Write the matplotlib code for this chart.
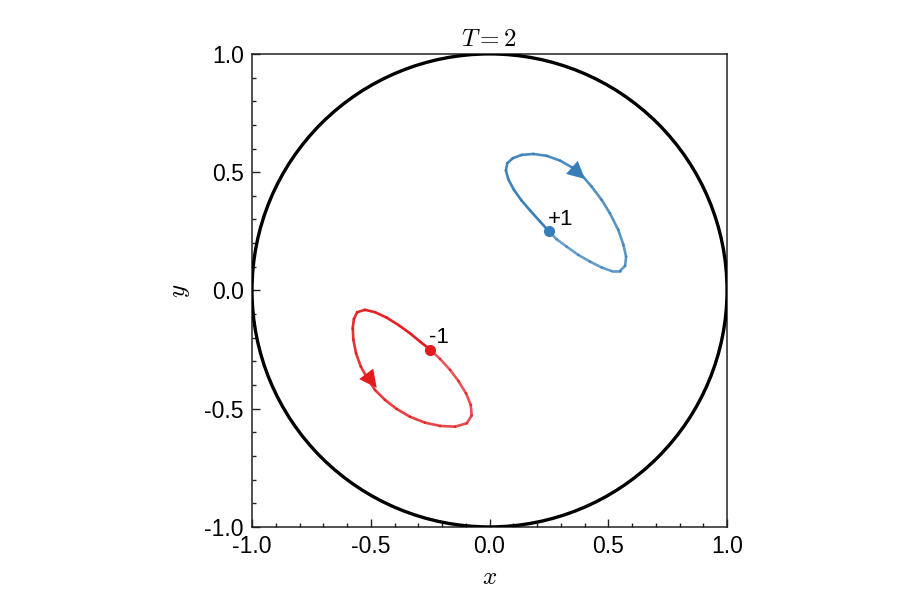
import matplotlib
matplotlib.use("Agg")
import matplotlib.pyplot as plt
import numpy as np
from matplotlib.collections import LineCollection
from matplotlib.ticker import MultipleLocator

# vortex trajectories (closed loops, start at the vortex)
blue_x = [0.250, 0.213, 0.171, 0.135, 0.103, 0.079, 0.069, 0.075, 0.098, 0.135,
          0.185, 0.241, 0.297, 0.346, 0.388, 0.430, 0.472, 0.507, 0.542, 0.564,
          0.575, 0.571, 0.549, 0.514, 0.472, 0.423, 0.374, 0.325, 0.283, 0.250]
blue_y = [0.250, 0.291, 0.338, 0.380, 0.425, 0.470, 0.507, 0.538, 0.559, 0.573,
          0.577, 0.569, 0.549, 0.521, 0.488, 0.439, 0.383, 0.326, 0.256, 0.192,
          0.143, 0.104, 0.082, 0.082, 0.097, 0.122, 0.150, 0.185, 0.216, 0.250]
red_x = [-0.250, -0.293, -0.335, -0.384, -0.433, -0.482, -0.524, -0.557, -0.571,
         -0.576, -0.573, -0.562, -0.542, -0.514, -0.482, -0.440, -0.391, -0.335,
         -0.272, -0.208, -0.145, -0.096, -0.075, -0.079, -0.099, -0.131, -0.166,
         -0.208, -0.250]
red_y = [-0.250, -0.216, -0.181, -0.146, -0.115, -0.092, -0.082, -0.092, -0.121,
         -0.160, -0.209, -0.266, -0.322, -0.371, -0.421, -0.463, -0.501, -0.534,
         -0.559, -0.573, -0.576, -0.562, -0.529, -0.484, -0.435, -0.383, -0.336,
         -0.290, -0.250]

vortex_pos = [(0.25, 0.25), (-0.25, -0.25)]
vortex_charge = ["+1", "-1"]
arrow_tail = [(0.346, 0.521), (-0.542, -0.322)]
arrow_tip = [(0.402, 0.471), (-0.475, -0.412)]
colors = ["#377eb8", "#e41a1c"]
T = 2

plt.rcParams["font.family"] = ["Liberation Sans", "DejaVu Sans"]
plt.rcParams["mathtext.fontset"] = "cm"
plt.rcParams["axes.unicode_minus"] = False

fig = plt.figure(figsize=(9, 6.12), dpi=100)
ax = fig.add_axes([0.28, 0.139, 0.5278, 0.7729])

ax.add_patch(plt.Circle((0, 0), 1, fill=False, color="black", lw=2.4, zorder=3))

loops = [(blue_x, blue_y), (red_x, red_y)]
for (lx, ly), pos, q, tail, tip, c in zip(loops, vortex_pos, vortex_charge,
                                          arrow_tail, arrow_tip, colors):
    pts = np.column_stack([lx, ly])
    segs = np.stack([pts[:-1], pts[1:]], axis=1)
    alphas = np.linspace(1.0, 0.72, len(segs))
    rgba = [matplotlib.colors.to_rgba(c, a) for a in alphas]
    ax.add_collection(LineCollection(segs, colors=rgba, lw=1.9,
                                     capstyle="round", joinstyle="round"))
    ax.annotate("", xy=tip, xytext=tail,
                arrowprops=dict(arrowstyle="-|>,head_length=0.9,head_width=0.45",
                                mutation_scale=14, color=c, lw=0,
                                shrinkA=0, shrinkB=0))
    ax.plot(*pos, "o", color=c, ms=7, zorder=4)
    ax.annotate(q, xy=pos, xytext=(-1, 1), textcoords="offset points",
                ha="left", va="bottom", fontsize=16)

ax.set_xlim(-1, 1)
ax.set_ylim(-1, 1)
ax.set_xticks([-1.0, -0.5, 0.0, 0.5, 1.0])
ax.set_yticks([-1.0, -0.5, 0.0, 0.5, 1.0])
ax.xaxis.set_minor_locator(MultipleLocator(0.1))
ax.yaxis.set_minor_locator(MultipleLocator(0.1))
ax.tick_params(which="both", direction="in", top=False, right=False,
               labelsize=16.5, width=1.0, color="#222222")
ax.tick_params(which="major", length=6)
ax.tick_params(which="minor", length=3)
ax.tick_params(axis="x", pad=6)
ax.tick_params(axis="y", pad=6)
for sp in ax.spines.values():
    sp.set_linewidth(1.1)
    sp.set_color("#222222")

ax.set_xlabel("$x$", fontsize=18, labelpad=5)
ax.set_ylabel("$y$", fontsize=18, labelpad=9)
ax.set_title(f"$T={T}$", fontsize=18, pad=6)

fig.savefig("out.png", dpi=100)
